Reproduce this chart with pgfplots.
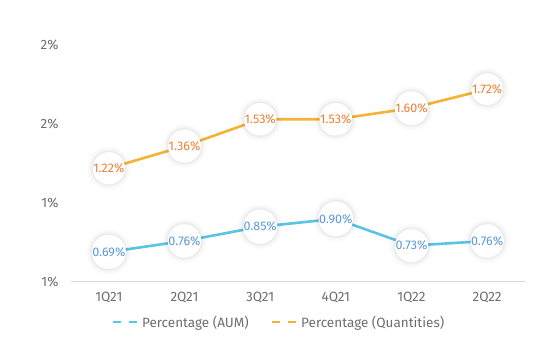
\documentclass[border=0pt]{standalone}
\usepackage{fontspec}
\setmainfont{Fira Sans}
\usepackage{pgfplots}
\pgfplotsset{compat=1.18}
\definecolor{aumline}{HTML}{5BC4E5}
\definecolor{aumtext}{HTML}{5B9BD5}
\definecolor{qline}{HTML}{F5B335}
\definecolor{qtext}{HTML}{F07F34}
\definecolor{tickc}{HTML}{6E6E6E}
\definecolor{axc}{HTML}{D9D9D9}
\begin{document}
\begin{tikzpicture}
\useasboundingbox (-71pt,-60pt) rectangle (483pt,282pt);
\begin{axis}[
  at={(0pt,0pt)}, anchor=south west,
  scale only axis, width=454pt, height=237pt,
  xmin=-0.5, xmax=5.5, ymin=0.5, ymax=2,
  axis lines*=left,
  x axis line style={draw=axc, line width=1pt},
  y axis line style={draw=none},
  xtick={0,1,2,3,4,5},
  xticklabels={1Q21,2Q21,3Q21,4Q21,1Q22,2Q22},
  ytick={0.5,1,1.5,2},
  yticklabels={1\%,1\%,2\%,2\%},
  major tick length=0pt,
  tick style={draw=none},
  tick label style={font=\fontsize{13.5}{15}\selectfont, text=tickc},
  yticklabel style={anchor=east},
  yticklabel shift=9pt,
  xticklabel shift=7pt,
  /pgf/number format/assume math mode=true,
  nodes near coords={\pgfmathprintnumber[fixed, fixed zerofill, precision=2]{\pgfplotspointmeta}\%},
  every node near coord/.append style={anchor=center, circle, fill=white, minimum size=31pt, inner sep=0pt,
     font=\fontsize{12.5}{14}\selectfont,
     preaction={draw=black, draw opacity=0.025, line width=10pt},
     preaction={draw=black, draw opacity=0.03, line width=5pt},
     preaction={draw=black, draw opacity=0.03, line width=2pt}},
  legend style={at={(0.458,-0.169)}, anchor=center, draw=none, legend columns=2,
     font=\fontsize{13.5}{15}\selectfont, text=tickc, fill=none,
     /tikz/every even column/.append style={column sep=20pt}},
  legend image code/.code={\draw[#1, dash pattern=on 8pt off 8pt, line width=2.5pt] (0pt,0pt) -- (26pt,0pt);},
]
\addplot[aumline, line width=2.6pt, mark=none,
  every node near coord/.append style={text=aumtext}]
  coordinates {(0,0.69) (1,0.76) (2,0.85) (3,0.90) (4,0.73) (5,0.76)};
\addlegendentry{Percentage (AUM)}
\addplot[qline, line width=2.6pt, mark=none,
  every node near coord/.append style={text=qtext}]
  coordinates {(0,1.22) (1,1.36) (2,1.53) (3,1.53) (4,1.60) (5,1.72)};
\addlegendentry{Percentage (Quantities)}
\end{axis}
\end{tikzpicture}
\end{document}
